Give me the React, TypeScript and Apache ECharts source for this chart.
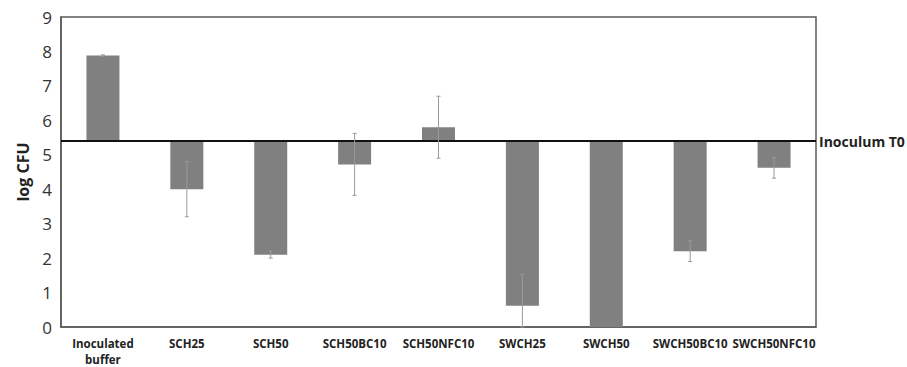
import React, { useEffect, useRef } from "react";
import * as echarts from "echarts";

const categories = [
  "Inoculated\nbuffer",
  "SCH25",
  "SCH50",
  "SCH50BC10",
  "SCH50NFC10",
  "SWCH25",
  "SWCH50",
  "SWCH50BC10",
  "SWCH50NFC10",
];
const logCfu = [7.88, 4.0, 2.1, 4.72, 5.8, 0.62, 0, 2.2, 4.62];
const errors = [0.02, 0.8, 0.1, 0.9, 0.9, 0.9, 0, 0.3, 0.3];
const inoculumT0 = 5.4;
const yTicks = { min: 0, max: 9, interval: 1 };

const FONT = "'Open Sans', 'DejaVu Sans', sans-serif";

export default function App() {
  const ref = useRef<HTMLDivElement>(null);
  useEffect(() => {
    document.body.style.margin = "0";
    if (!ref.current) return;
    const chart = echarts.init(ref.current, null, { renderer: "svg" });
    const baseData = logCfu.map((v) => Math.min(v, inoculumT0));
    const deltaData = logCfu.map((v) => Math.abs(v - inoculumT0));
    const errData = logCfu.map((v, i) => [
      i,
      Math.max(0, v - errors[i]),
      v + errors[i],
    ]);
    chart.setOption({
      animation: false,
      grid: {
        left: 61,
        right: 91,
        top: 17,
        bottom: 37,
        show: true,
        borderColor: "#5a5a5a",
        borderWidth: 1.5,
      },
      xAxis: {
        type: "category",
        data: categories,
        axisLine: { show: true, lineStyle: { color: "#5a5a5a", width: 1.5 } },
        axisTick: { show: false },
        axisLabel: {
          fontFamily: FONT,
          fontWeight: "bold",
          fontSize: 11.5,
          color: "#222",
          margin: 8,
          interval: 0,
          lineHeight: 16,
        },
      },
      yAxis: {
        type: "value",
        min: yTicks.min,
        max: yTicks.max,
        interval: yTicks.interval,
        name: "log CFU",
        nameLocation: "middle",
        nameRotate: 90,
        nameGap: 29,
        nameTextStyle: {
          fontFamily: FONT,
          fontWeight: "bold",
          fontSize: 16,
          color: "#222",
        },
        splitLine: { show: false },
        axisTick: { show: false },
        axisLine: { show: true, lineStyle: { color: "#5a5a5a", width: 1.5 } },
        axisLabel: {
          fontFamily: FONT,
          fontSize: 17,
          color: "#333",
          margin: 9,
        },
      },
      series: [
        {
          type: "bar",
          stack: "t0",
          data: baseData,
          barWidth: 33,
          itemStyle: { color: "transparent" },
          silent: true,
        },
        {
          type: "bar",
          stack: "t0",
          data: deltaData,
          barWidth: 33,
          itemStyle: { color: "#808080" },
          markLine: {
            silent: true,
            symbol: "none",
            data: [{ yAxis: inoculumT0 }],
            lineStyle: { color: "#111", width: 2, type: "solid" },
            label: {
              show: true,
              position: "end",
              formatter: "Inoculum T0",
              fontFamily: FONT,
              fontWeight: "bold",
              fontSize: 14,
              color: "#222",
              distance: 3,
            },
          },
        },
        {
          type: "custom",
          data: errData,
          encode: { x: 0, y: [1, 2] },
          z: 5,
          renderItem: (params: any, api: any) => {
            const i = api.value(0);
            const lo = api.coord([i, api.value(1)]);
            const hi = api.coord([i, api.value(2)]);
            if (Math.abs(lo[1] - hi[1]) < 0.5) return null;
            const cap = 2;
            const style = { stroke: "#9a9a9a", lineWidth: 1 };
            return {
              type: "group",
              children: [
                { type: "line", shape: { x1: lo[0], y1: lo[1], x2: hi[0], y2: hi[1] }, style },
                { type: "line", shape: { x1: hi[0] - cap, y1: hi[1], x2: hi[0] + cap, y2: hi[1] }, style },
                { type: "line", shape: { x1: lo[0] - cap, y1: lo[1], x2: lo[0] + cap, y2: lo[1] }, style },
              ],
            };
          },
        },
      ],
    });
    return () => chart.dispose();
  }, []);
  return <div ref={ref} style={{ width: 907, height: 367 }} />;
}
